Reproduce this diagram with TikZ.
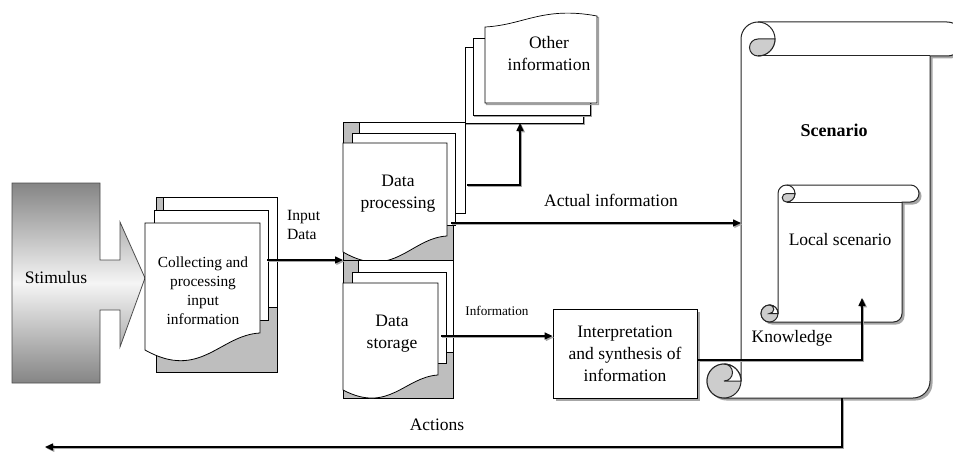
\documentclass[tikz,border=0pt]{standalone}
\usepackage{fontspec}
\setmainfont{Liberation Serif}
\usetikzlibrary{arrows.meta}

\definecolor{sheetgray}{HTML}{BEBEBE}
\definecolor{curlgray}{HTML}{CDCDCD}
\definecolor{edgegray}{HTML}{A0A0A0}
\definecolor{stimdark}{HTML}{858585}

\tikzset{
  sheet/.style={fill=white, draw=black, line width=0.8pt},
  backshade/.style={fill=sheetgray, draw=black, line width=0.8pt},
  ghost/.style={fill=white, draw=black, line width=0.7pt,
    preaction={draw=edgegray, line width=1.2pt, transform canvas={shift={(1.5pt,-1.5pt)}}}},
  flow/.style={draw=black, line width=1.5pt, -{Triangle[length=8pt,width=7pt]},
    preaction={draw=black!35, line width=1.5pt, -{Triangle[length=8pt,width=7pt]},
      transform canvas={shift={(1.4pt,-1.4pt)}}}},
  scrollbody/.style={fill=white, draw=black!85, line width=1pt,
    preaction={fill=black!35, transform canvas={shift={(2.5pt,-2.5pt)}}}},
  scrolledge/.style={draw=black!85, line width=1pt},
  curl/.style={fill=curlgray, draw=black!85, line width=1pt},
  lbl/.style={inner sep=0pt, font=\fontsize{17.5}{22}\selectfont, align=center},
}

% one document sheet with a wavy lower edge
\newcommand\docsheet[6]{%
  \filldraw[sheet] (#1,#2) -- (#3,#2) -- (#3,#4)
    .. controls ({#3-0.35*(#3-#1)},{#4+2}) and ({#1+0.48*(#3-#1)},#6) .. (#1,#5) -- cycle;}

% vertical scroll: left, top, right, bottom, roll diameter
\newcommand\vscroll[5]{%
  \pgfmathsetmacro\scH{#5/2}%
  \pgfmathsetmacro\scQ{#5/4}%
  \pgfmathsetmacro\scXa{#1+#5}%
  \pgfmathsetmacro\scXb{#1+1.5*#5}%
  \pgfmathsetmacro\scXc{#3-#5}%
  \pgfmathsetmacro\scXd{#3-0.5*#5}%
  \pgfmathsetmacro\scXe{#1+0.5*#5}%
  \pgfmathsetmacro\scYa{#2+0.5*#5}%
  \pgfmathsetmacro\scYb{#2+#5}%
  \pgfmathsetmacro\scYc{#4-0.5*#5}%
  \pgfmathsetmacro\scYd{#4-#5}%
  \path[scrollbody] (\scXa,\scYc) -- (\scXa,\scYa)
     arc[start angle=180,end angle=270,radius=\scH] -- (\scXd,#2)
     arc[start angle=270,end angle=450,radius=\scH] -- (\scXc,\scYb) -- (\scXc,\scYc)
     arc[start angle=0,end angle=90,radius=\scH] -- (\scXe,#4)
     arc[start angle=90,end angle=360,radius=\scH] -- cycle;
  \draw[scrolledge] (\scXb,#2) arc[start angle=270,end angle=450,radius=\scH];
  \filldraw[curl] (\scXb,\scYb) arc[start angle=90,end angle=0,radius=\scH]
     -- (\scXb,\scYa) arc[start angle=270,end angle=90,radius=\scQ] -- cycle;
  \draw[scrolledge] (\scXb,\scYb) -- (\scXc,\scYb);
  \filldraw[curl] (\scXe,\scYc) circle[radius=\scH];
  \filldraw[scrolledge, fill=white] (\scXe,\scYd) arc[start angle=270,end angle=450,radius=\scQ]
     -- (\scXa,\scYc) arc[start angle=0,end angle=-90,radius=\scH] -- cycle;
}

\begin{document}
\begin{tikzpicture}[x=1pt,y=-1pt]
\useasboundingbox (0,0) rectangle (953,452);
\clip (0,0) rectangle (953,452);

% stimulus block arrow
\shadedraw[top color=stimdark, bottom color=stimdark, middle color=white!96!black,
  draw=black!70, line width=0.8pt]
  (12,183) -- (100,183) -- (100,260) -- (120,260) -- (120,222) -- (145,278)
  -- (120,347) -- (120,310) -- (100,310) -- (100,383) -- (12,383) -- cycle;
\node[lbl] (stim) at (56,278) {Stimulus};

% collecting stack
\filldraw[backshade] (156,197) rectangle (277,372);
\filldraw[sheet] (163,197) rectangle (277,307);
\filldraw[sheet] (154,210) rectangle (268,320);
\docsheet{145}{223}{260}{333}{350}{381}
\node[lbl, font=\fontsize{15.4}{19}\selectfont] (collect) at (203,291)
  {Collecting and\\processing\\input\\information};

% data processing stack
\filldraw[backshade] (343,122) rectangle (453,262);
\filldraw[sheet] (359,122) rectangle (465,213);
\filldraw[sheet] (352,133) rectangle (455,225);
\docsheet{343}{143}{447}{236}{252}{281}
\node[lbl] (proc) at (398,194) {Data\\processing};

% data storage stack
\filldraw[backshade] (343,260) rectangle (453,398);
\filldraw[sheet] (358,260) rectangle (453,352);
\filldraw[sheet] (352,272) rectangle (446,363);
\docsheet{343}{283}{438}{375}{390}{414}
\node[lbl] (store) at (392,334) {Data\\storage};

% other information stack
\filldraw[ghost] (465,47) rectangle (583,123);
\filldraw[ghost] (473,38) rectangle (590,115);
\filldraw[ghost] (485,103) -- (485,27) .. controls (524,25) and (543,6) .. (597,16) -- (597,103) -- cycle;
\node[lbl] (other) at (549,54) {Other\\information};

% interpretation box
\fill[black!35] (556,312) rectangle (700,401);
\node[draw=black, line width=0.9pt, fill=white, minimum width=144pt, minimum height=89pt,
  lbl] (interp) at (625,353.5) {Interpretation\\and synthesis of\\information};

% scrolls
\vscroll{707}{22}{964}{398}{34}
\node[lbl, font=\fontsize{18}{22}\selectfont\bfseries] (scen) at (834,130) {Scenario};
\vscroll{761}{185}{919}{322}{17}
\node[lbl] (local) at (840,240) {Local scenario};

% connector end points
\coordinate (collect-out) at (267,260);
\coordinate (proc-in) at (343,260);
\coordinate (proc-out) at (451,223);
\coordinate (scen-in) at (741,223);
\coordinate (proc-up) at (467,185);
\coordinate (other-in) at (520,123);
\coordinate (store-out) at (441,336);
\coordinate (know-out) at (697,360);
\coordinate (local-in) at (862,298);
\coordinate (scen-out) at (842,398);
\coordinate (act-end) at (45,447);

\draw[flow] (collect-out) -- (proc-in);
\draw[flow] (proc-out) -- (scen-in);
\draw[flow] (proc-up) -| (other-in);
\draw[flow] (store-out) -- (store-out -| interp.west);
\draw[flow] (know-out) -| (local-in);
\draw[flow] (scen-out) |- (act-end);

% labels
\node[lbl, font=\fontsize{15.6}{19}\selectfont, align=left, anchor=west] (inlbl) at (287,225) {Input\\Data};
\node[lbl] (actlbl) at (611,200) {Actual information};
\node[lbl, font=\fontsize{13.2}{16}\selectfont] (infolbl) at (497,311) {Information};
\node[lbl] (knowlbl) at (792,338) {Knowledge};
\node[lbl] (actionslbl) at (437,425) {Actions};
\end{tikzpicture}
\end{document}
